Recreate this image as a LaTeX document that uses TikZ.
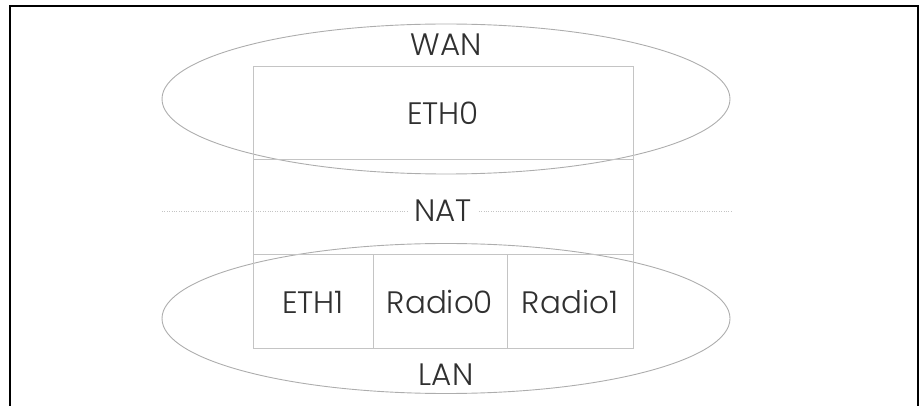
\documentclass[tikz,border=0pt]{standalone}
\usepackage{fontspec}
\setmainfont{Poppins}[UprightFont=* Light]
\usetikzlibrary{shapes.geometric}
\definecolor{ringgray}{HTML}{ADADAD}
\definecolor{boxgray}{HTML}{C4C4C4}
\definecolor{inkgray}{HTML}{303030}
\tikzset{
  cell/.style={draw=boxgray, line width=1pt, inner sep=0pt, text=inkgray,
    font=\fontsize{31}{36}\selectfont},
  zone/.style={ellipse, draw=ringgray, line width=0.9pt, inner sep=0pt,
    minimum width=568pt, minimum height=150pt},
  tag/.style={text=inkgray, inner sep=2pt, font=\fontsize{31}{36}\selectfont}
}
\begin{document}
\begin{tikzpicture}[x=1pt,y=-1pt]
\useasboundingbox (0,0) rectangle (922,406);
% frame
\draw[line width=2.5pt] (10,412) -- (10,6) -- (918,6) -- (918,412);
% zones
\node[zone] (wan) at (446,99) {};
\node[zone] (lan) at (446,318.5) {};
\node[tag] (wanlbl) at (446,44.5) {WAN};
\node[tag] (lanlbl) at (446,374.5) {LAN};
% interfaces
\node[cell, minimum width=380pt, minimum height=93pt] (eth0) at (443,113.5) {ETH0};
\node[cell, minimum width=380pt, minimum height=95pt] (nat) at (443,207.5) {};
\node[cell, minimum width=120pt, minimum height=94pt] (eth1) at (313,302) {ETH1};
\node[cell, minimum width=134pt, minimum height=94pt] (radio0) at (440,302) {Radio0};
\node[cell, minimum width=126pt, minimum height=94pt] (radio1) at (570,302) {Radio1};
% boundary
\coordinate (bl) at (162,211);
\coordinate (br) at (732,211);
\draw[boxgray, line width=0.8pt, dash pattern=on 0.8pt off 1.6pt] (bl) -- (br);
\node[tag, fill=white, inner xsep=6pt] (natlbl) at (443,211) {NAT};
\end{tikzpicture}
\end{document}
